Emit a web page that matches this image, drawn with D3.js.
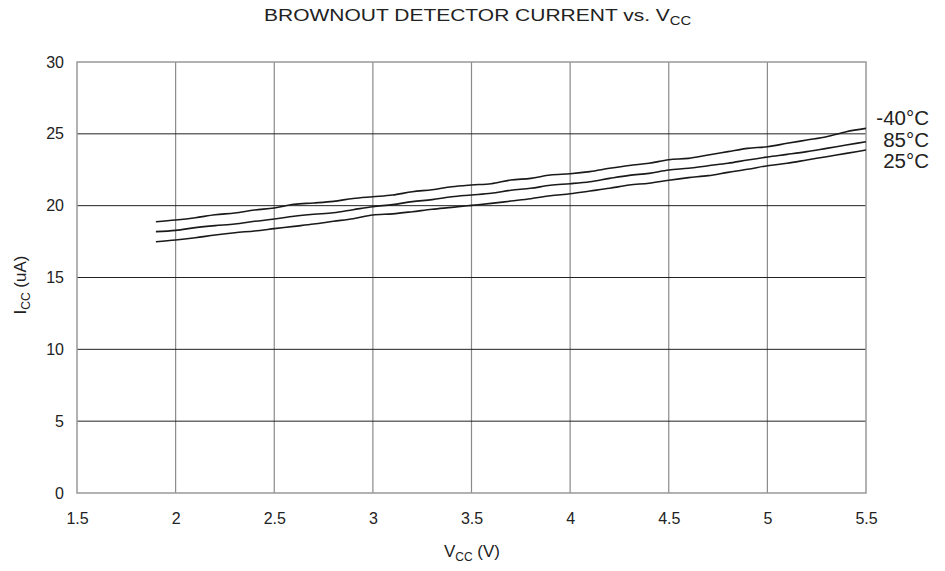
<!DOCTYPE html>
<html><head><meta charset="utf-8">
<script src="https://cdn.jsdelivr.net/npm/d3@7"></script>
<style>body{margin:0;background:#fff}svg{display:block;font-family:"Liberation Sans",Arial,sans-serif}</style>
</head><body><svg id="c" width="945" height="571"></svg>
<script>
const vcc = [1.9,2.0,2.1,2.2,2.3,2.4,2.5,2.6,2.7,2.8,2.9,3.0,3.1,3.2,3.3,3.4,3.5,3.6,3.7,3.8,3.9,4.0,4.1,4.2,4.3,4.4,4.5,4.6,4.7,4.8,4.9,5.0,5.1,5.2,5.3,5.4,5.5];
const iccM40 = [18.88,19.0,19.16,19.37,19.49,19.70,19.84,20.1,20.19,20.3,20.5,20.62,20.74,20.97,21.11,21.32,21.44,21.53,21.79,21.90,22.13,22.22,22.37,22.60,22.80,22.95,23.20,23.29,23.53,23.76,23.99,24.10,24.34,24.57,24.80,25.15,25.38];
const icc85 = [18.19,18.28,18.47,18.61,18.72,18.91,19.07,19.26,19.40,19.51,19.72,19.93,20.07,20.28,20.42,20.62,20.74,20.86,21.07,21.21,21.42,21.53,21.67,21.90,22.11,22.25,22.48,22.60,22.78,22.95,23.18,23.39,23.57,23.76,23.99,24.22,24.45];
const icc25 = [17.49,17.61,17.77,17.96,18.12,18.24,18.40,18.56,18.72,18.91,19.09,19.35,19.43,19.58,19.75,19.88,20.02,20.16,20.32,20.48,20.69,20.83,21.02,21.21,21.44,21.56,21.77,21.95,22.09,22.32,22.53,22.78,22.95,23.18,23.41,23.64,23.87];
const seriesLabels = ["-40°C","85°C","25°C"];
const xTicks = [1.5,2,2.5,3,3.5,4,4.5,5,5.5];
const yTicks = [0,5,10,15,20,25,30];

const svg = d3.select("#c");
const L=77,R=866,T=62,B=493;
const x = d3.scaleLinear().domain([1.5,5.5]).range([L,R]);
const y = d3.scaleLinear().domain([0,30]).range([B,T]);
const FONT = "Liberation Sans, Arial, sans-serif";

// vertical grid (grey)
svg.append("g").selectAll("line").data(xTicks.slice(1,-1)).join("line")
  .attr("x1",d=>x(d)).attr("x2",d=>x(d)).attr("y1",T).attr("y2",B)
  .attr("stroke","#8a8a8a").attr("stroke-width",1.2);
// horizontal grid (black)
svg.append("g").selectAll("line").data(yTicks.slice(1,-1)).join("line")
  .attr("x1",L).attr("x2",R).attr("y1",d=>y(d)).attr("y2",d=>y(d))
  .attr("stroke","#222").attr("stroke-width",1);
// frame
svg.append("rect").attr("x",L).attr("y",T).attr("width",R-L).attr("height",B-T)
  .attr("fill","none").attr("stroke","#999").attr("stroke-width",1.5);

// axes labels via d3 axes
const xa = svg.append("g").attr("transform",`translate(0,${B})`)
  .call(d3.axisBottom(x).tickValues(xTicks).tickSize(0).tickPadding(20).tickFormat(d3.format("")));
xa.select(".domain").remove();
xa.selectAll("text").attr("font-size",16).attr("fill","#222").attr("font-family",FONT);
const ya = svg.append("g").attr("transform",`translate(${L},0)`)
  .call(d3.axisLeft(y).tickValues(yTicks).tickSize(0).tickPadding(13));
ya.select(".domain").remove();
ya.selectAll("text").attr("font-size",16).attr("fill","#222").attr("font-family",FONT);

// lines
const series = [iccM40, icc85, icc25];
const line = d3.line().x((d,i)=>x(vcc[i])).y(d=>y(d)).curve(d3.curveMonotoneX);
series.forEach(s=>{
  svg.append("path").datum(s).attr("d",line).attr("fill","none")
    .attr("stroke","#1a1a1a").attr("stroke-width",1.6);
});

// end labels
const labelBase = [125,147,168];
svg.append("g").selectAll("text").data(seriesLabels).join("text")
  .attr("x",929).attr("y",(d,i)=>labelBase[i]).attr("text-anchor","end")
  .attr("font-size",20.5).attr("fill","#222").text(d=>d);

// title
const tg = svg.append("g");
const t = tg.append("text").attr("x",0).attr("y",0)
  .attr("font-size",17).attr("fill","#222");
t.append("tspan").text("BROWNOUT DETECTOR CURRENT vs. V");
t.append("tspan").attr("font-size",12).attr("dy",4).text("CC");
const tw = t.node().getBBox().width;
const targetW = 428, tx0 = 264;
tg.attr("transform",`translate(${tx0},21) scale(${targetW/tw},1)`);

// x title
const xt = svg.append("text").attr("x",472).attr("y",557).attr("text-anchor","middle")
  .attr("font-size",17).attr("fill","#222");
xt.append("tspan").text("V");
xt.append("tspan").attr("font-size",12).attr("dy",4).text("CC");
xt.append("tspan").attr("dy",-4).text(" (V)");

// y title
const yt = svg.append("text").attr("transform","translate(26,285) rotate(-90)").attr("text-anchor","middle")
  .attr("font-size",17).attr("fill","#222");
yt.append("tspan").text("I");
yt.append("tspan").attr("font-size",12).attr("dy",4).text("CC");
yt.append("tspan").attr("dy",-4).text(" (uA)");
</script></body></html>
